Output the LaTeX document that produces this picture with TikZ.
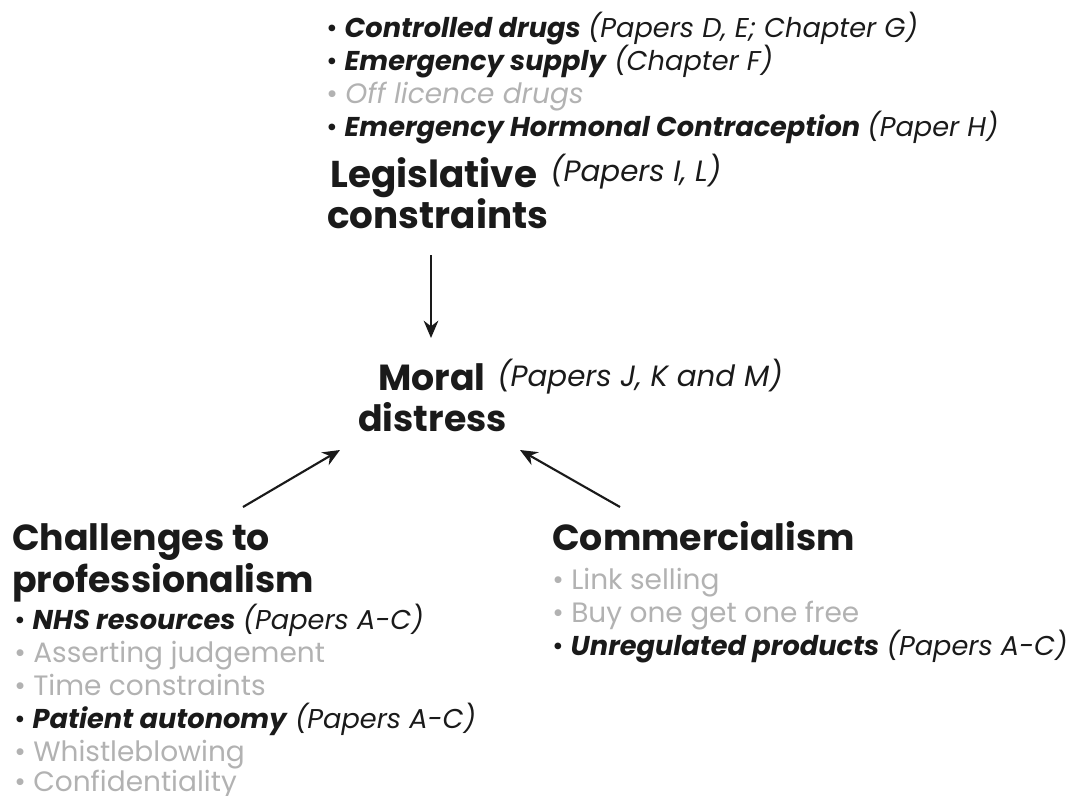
\documentclass[tikz,border=0pt]{standalone}
\usepackage{fontspec}
\setmainfont{Poppins}
\usetikzlibrary{arrows.meta}
\definecolor{lg}{HTML}{B2B2B2}
\definecolor{tx}{HTML}{1A1A1A}
\begin{document}
\begin{tikzpicture}[x=0.75pt,y=-0.75pt,
  head/.style={font=\fontsize{27.2}{30}\selectfont\bfseries, text=tx, anchor=base west, inner sep=0pt},
  item/.style={font=\fontsize{20.4}{24}\selectfont, text=tx, anchor=base west, inner sep=0pt},
  paren/.style={item, font=\fontsize{22}{25}\selectfont\itshape},
  grey/.style={item, font=\fontsize{21}{24}\selectfont, text=lg},
  leghead/.style={head, font=\fontsize{28}{31}\selectfont\bfseries},
  arr/.style={-{Stealth[length=13pt,width=11pt]}, line width=1.6pt, draw=tx}]
\useasboundingbox (0,0) rectangle (1078,796);
% top list
\node[item] (t1) at (326,37) {• \textbf{\textit{Controlled drugs}} \textit{(Papers D, E; Chapter G)}};
\node[item] (t2) at (326,70) {• \textbf{\textit{Emergency supply}} \textit{(Chapter F)}};
\node[grey] (t3) at (326,103) {• \textit{Off licence drugs}};
\node[item] (t4) at (326,136) {• \textbf{\textit{Emergency Hormonal Contraception}} \textit{(Paper H)}};
% legislative
\node[leghead] (leg1) at (330,187) {Legislative};
\node[paren] (legp) at (550,181) {(Papers I, L)};
\node[leghead] (leg2) at (327,228) {constraints};
% moral
\node[head] (mor1) at (378,390) {Moral};
\node[paren] (morp) at (497,386) {(Papers J, K and M)};
\node[head] (mor2) at (358,431) {distress};
% challenges
\node[head] (ch1) at (12,550) {Challenges to};
\node[head] (ch2) at (12,592) {professionalism};
\node[item] (c1) at (14,629) {• \textbf{\textit{NHS resources}} \textit{(Papers A-C)}};
\node[grey] (c2) at (14,662) {• Asserting judgement};
\node[grey] (c3) at (14,695) {• Time constraints};
\node[item] (c4) at (14,728) {• \textbf{\textit{Patient autonomy}} \textit{(Papers A-C)}};
\node[grey] (c5) at (14,761) {• Whistleblowing};
\node[grey] (c6) at (14,791) {• Confidentiality};
% commercialism
\node[head] (co) at (552,550) {Commercialism};
\node[grey] (k1) at (552,589) {• Link selling};
\node[grey] (k2) at (552,622) {• Buy one get one free};
\node[item] (k3) at (552,655) {• \textbf{\textit{Unregulated products}} \textit{(Papers A-C)}};
% arrows
\coordinate (a1s) at (431,255);
\coordinate (a1e) at (431,338);
\coordinate (a2s) at (243,507);
\coordinate (a2e) at (340,450);
\coordinate (a3s) at (620,507);
\coordinate (a3e) at (520,450);
\draw[arr] (a1s) -- (a1e);
\draw[arr] (a2s) -- (a2e);
\draw[arr] (a3s) -- (a3e);
\end{tikzpicture}
\end{document}
